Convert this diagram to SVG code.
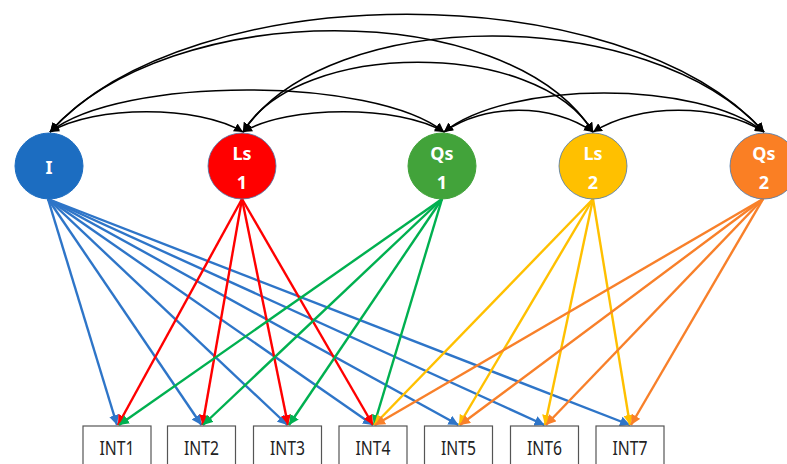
<svg xmlns="http://www.w3.org/2000/svg" width="787" height="464" viewBox="0 0 787 464">
<style>
.arc{fill:none;stroke:#000;stroke-width:1.6;marker-start:url(#ah);marker-end:url(#ah)}
.ln{fill:none;stroke-width:2.4}
.b{stroke:#2E75C8;marker-end:url(#ab)}
.r{stroke:#FF0000;marker-end:url(#ar)}
.g{stroke:#00B050;marker-end:url(#ag)}
.y{stroke:#FFC000;marker-end:url(#ay)}
.o{stroke:#F8802A;marker-end:url(#ao)}
.nl{font-family:"Noto Sans","Open Sans",sans-serif;font-weight:bold;font-size:18px;fill:#fff;text-anchor:middle}
.box{fill:#fff;stroke:#555;stroke-width:1.2}
.bt{font-family:"Noto Sans","Open Sans",sans-serif;font-size:19px;fill:#222;text-anchor:middle}
</style>
<defs>
<marker id="ah" viewBox="0 0 10 10" refX="10" refY="5" markerWidth="9" markerHeight="9" markerUnits="userSpaceOnUse" orient="auto-start-reverse"><path d="M0,0 L10,5 L0,10 z" fill="#000"/></marker>
<marker id="ab" viewBox="0 0 10 10" refX="10" refY="5" markerWidth="10" markerHeight="10" markerUnits="userSpaceOnUse" orient="auto"><path d="M0,0 L10,5 L0,10 z" fill="#2E75C8"/></marker>
<marker id="ar" viewBox="0 0 10 10" refX="10" refY="5" markerWidth="10" markerHeight="10" markerUnits="userSpaceOnUse" orient="auto"><path d="M0,0 L10,5 L0,10 z" fill="#FF0000"/></marker>
<marker id="ag" viewBox="0 0 10 10" refX="10" refY="5" markerWidth="10" markerHeight="10" markerUnits="userSpaceOnUse" orient="auto"><path d="M0,0 L10,5 L0,10 z" fill="#00B050"/></marker>
<marker id="ay" viewBox="0 0 10 10" refX="10" refY="5" markerWidth="10" markerHeight="10" markerUnits="userSpaceOnUse" orient="auto"><path d="M0,0 L10,5 L0,10 z" fill="#FFC000"/></marker>
<marker id="ao" viewBox="0 0 10 10" refX="10" refY="5" markerWidth="10" markerHeight="10" markerUnits="userSpaceOnUse" orient="auto"><path d="M0,0 L10,5 L0,10 z" fill="#F8802A"/></marker>
</defs>
<rect width="787" height="464" fill="#fff"/>
<g id="connectors">
<path class="arc" d="M50,132 C95,105 198,105 243,132"/>
<path class="arc" d="M50,132 C120,76 374,76 444,132"/>
<path class="arc" d="M50,132 C170,-3 508,-3 593,132"/>
<path class="arc" d="M50,132 C190,-25 624,-25 764,132"/>
<path class="arc" d="M243,132 C288,105 399,105 444,132"/>
<path class="arc" d="M243,132 C298,39 538,39 593,132"/>
<path class="arc" d="M243,132 C328,4 649,4 764,132"/>
<path class="arc" d="M444,132 C484,103 553,103 593,132"/>
<path class="arc" d="M444,132 C509,80 699,80 764,132"/>
<path class="arc" d="M593,132 C638,103 719,103 764,132"/>
<g class="ln b">
<line x1="48" y1="199" x2="117" y2="425"/>
<line x1="48" y1="199" x2="201.5" y2="425"/>
<line x1="48" y1="199" x2="287.5" y2="425"/>
<line x1="48" y1="199" x2="373" y2="425"/>
<line x1="48" y1="199" x2="458.5" y2="425"/>
<line x1="48" y1="199" x2="544.5" y2="425"/>
<line x1="48" y1="199" x2="630" y2="425"/>
</g>
<g class="ln r">
<line x1="242" y1="199" x2="118" y2="425"/>
<line x1="242" y1="199" x2="202.5" y2="425"/>
<line x1="242" y1="199" x2="288" y2="425"/>
<line x1="242" y1="199" x2="373" y2="425"/>
</g>
<g class="ln g">
<line x1="442" y1="199" x2="119" y2="425"/>
<line x1="442" y1="199" x2="203" y2="425"/>
<line x1="442" y1="199" x2="289" y2="425"/>
<line x1="442" y1="199" x2="374" y2="425"/>
</g>
<g class="ln y">
<line x1="593" y1="199" x2="374" y2="425"/>
<line x1="593" y1="199" x2="459" y2="425"/>
<line x1="593" y1="199" x2="545" y2="425"/>
<line x1="593" y1="199" x2="630" y2="425"/>
</g>
<g class="ln o">
<line x1="763" y1="199" x2="375" y2="425"/>
<line x1="763" y1="199" x2="460" y2="425"/>
<line x1="763" y1="199" x2="546" y2="425"/>
<line x1="763" y1="199" x2="631" y2="425"/>
</g>
</g>
<g id="node-I"><ellipse cx="49" cy="166" rx="34" ry="33" fill="#1C6DC1" stroke="#1C6DC1"/><text class="nl" x="49" y="174">I</text></g>
<g id="node-Ls1"><ellipse cx="242" cy="166" rx="34" ry="33" fill="#FF0000" stroke="#4A76A8" stroke-width="0.8"/><text class="nl" x="242" y="160">Ls</text><text class="nl" x="242" y="189">1</text></g>
<g id="node-Qs1"><ellipse cx="442" cy="166" rx="34" ry="33" fill="#42A33A" stroke="#42A33A"/><text class="nl" x="442" y="160">Qs</text><text class="nl" x="442" y="189">1</text></g>
<g id="node-Ls2"><ellipse cx="593" cy="166" rx="34" ry="33" fill="#FFC000" stroke="#4A76A8" stroke-width="0.8"/><text class="nl" x="593" y="160">Ls</text><text class="nl" x="593" y="189">2</text></g>
<g id="node-Qs2"><ellipse cx="764" cy="166" rx="34" ry="33" fill="#FA7F24" stroke="#4A76A8" stroke-width="0.8"/><text class="nl" x="764" y="160">Qs</text><text class="nl" x="764" y="189">2</text></g>
<g id="node-INT1"><rect class="box" x="83" y="426" width="68" height="44"/><text class="bt" x="117" y="455" textLength="35" lengthAdjust="spacingAndGlyphs">INT1</text></g>
<g id="node-INT2"><rect class="box" x="167.5" y="426" width="68" height="44"/><text class="bt" x="201.5" y="455" textLength="35" lengthAdjust="spacingAndGlyphs">INT2</text></g>
<g id="node-INT3"><rect class="box" x="253.5" y="426" width="68" height="44"/><text class="bt" x="287.5" y="455" textLength="35" lengthAdjust="spacingAndGlyphs">INT3</text></g>
<g id="node-INT4"><rect class="box" x="339" y="426" width="68" height="44"/><text class="bt" x="373" y="455" textLength="35" lengthAdjust="spacingAndGlyphs">INT4</text></g>
<g id="node-INT5"><rect class="box" x="424.5" y="426" width="68" height="44"/><text class="bt" x="458.5" y="455" textLength="35" lengthAdjust="spacingAndGlyphs">INT5</text></g>
<g id="node-INT6"><rect class="box" x="510.5" y="426" width="68" height="44"/><text class="bt" x="544.5" y="455" textLength="35" lengthAdjust="spacingAndGlyphs">INT6</text></g>
<g id="node-INT7"><rect class="box" x="596" y="426" width="68" height="44"/><text class="bt" x="630" y="455" textLength="35" lengthAdjust="spacingAndGlyphs">INT7</text></g>
</svg>
